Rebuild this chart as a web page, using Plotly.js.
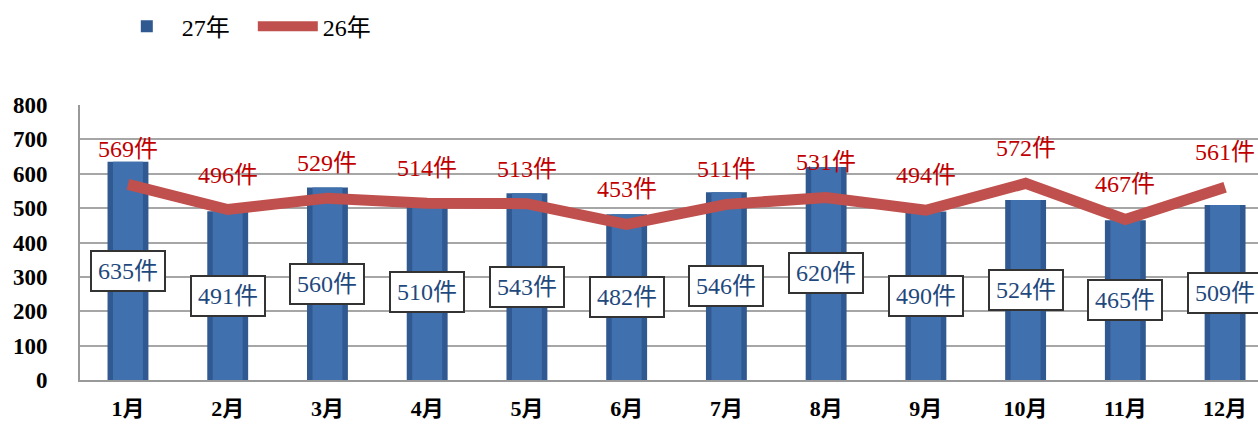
<!DOCTYPE html>
<html><head><meta charset="utf-8">
<script src="https://cdn.plot.ly/plotly-3.0.1.min.js"></script>
<style>html,body{margin:0;padding:0;background:#fff}</style>
</head><body><div id="chart" style="width:1258px;height:425px"></div>
<script>
const months = ['1月','2月','3月','4月','5月','6月','7月','8月','9月','10月','11月','12月'];
const y27 = [635,491,560,510,543,482,546,620,490,524,465,509];
const y26 = [569,496,529,514,513,453,511,531,494,572,467,561];
const FONT = '"Liberation Serif", "DejaVu Serif", "Noto Sans CJK JP", serif';

const bars = {
  type:'bar', name:'27年', x:months, y:y27, width:0.41,
  marker:{color:'#2F5990', line:{color:'#2F5990', width:0}},
  hoverinfo:'skip'
};
const barsInner = {
  type:'bar', name:'27年', x:months, y:y27, width:0.30, showlegend:false,
  marker:{color:'#4071AE', line:{width:0}},
  hoverinfo:'skip'
};
const line = {
  type:'scatter', mode:'lines', name:'26年', x:months, y:y26,
  line:{color:'#C0504D', width:11, shape:'linear'},
  hoverinfo:'skip'
};
const ann = [];
months.forEach((m,i)=>{
  ann.push({x:m, y:y27[i]/2, xref:'x', yref:'y', text:y27[i]+'件', showarrow:false,
    font:{family:FONT, size:24, color:'#1F497D'}, bgcolor:'#ffffff',
    bordercolor:'#333333', borderwidth:2, borderpad:6});
  ann.push({x:m, y:y26[i], xref:'x', yref:'y', text:y26[i]+'件', showarrow:false,
    yshift:35, font:{family:FONT, size:24, color:'#C00000'}});
});
const layout = {
  width:1258, height:425,
  margin:{l:80, r:0, t:105, b:45},
  paper_bgcolor:'#ffffff', plot_bgcolor:'#ffffff',
  font:{family:FONT, color:'#000'},
  barmode:'overlay',
  showlegend:true,
  legend:{orientation:'h', x:0.027, y:1.285, xanchor:'left', yanchor:'middle',
    font:{family:FONT, size:24, color:'#000'}, itemwidth:60, entrywidth:66, traceorder:'normal'},
  xaxis:{type:'category', range:[-0.481, 11.33], showgrid:false, showline:true,
    linecolor:'#999', linewidth:2, ticks:'', tickfont:{family:FONT, size:22, color:'#000', weight:'bold'},
    ticklabelstandoff:8, fixedrange:true},
  yaxis:{range:[0,800], dtick:100, showgrid:true, gridcolor:'#A6A6A6', gridwidth:2,
    showline:true, linecolor:'#999', linewidth:2, mirror:true, ticks:'',
    tickfont:{family:FONT, size:23, color:'#000', weight:'bold'}, ticklabelstandoff:26,
    zeroline:false, fixedrange:true},
  annotations:ann
};
Plotly.newPlot('chart', [bars, barsInner, line], layout, {staticPlot:true, displayModeBar:false});
</script></body></html>
